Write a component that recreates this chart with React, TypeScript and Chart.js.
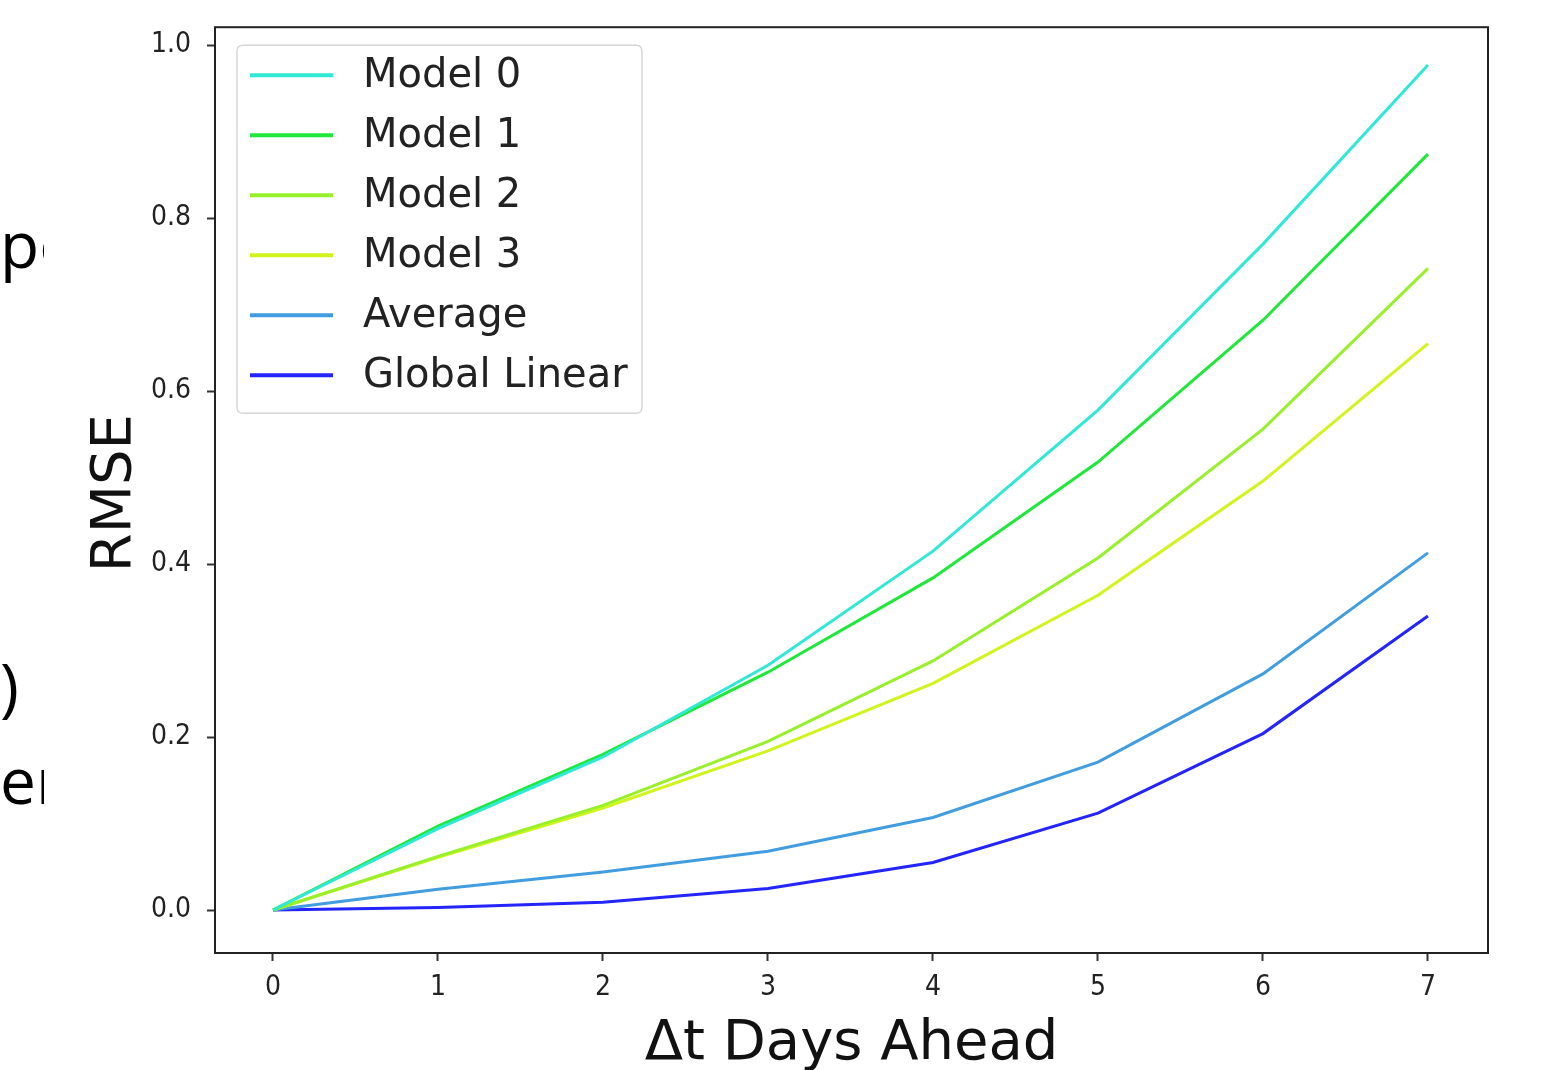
import React, { useEffect, useRef } from "react";
import { Chart, registerables } from "chart.js";

Chart.register(...registerables);

const steps = [0, 1, 2, 3, 4, 5, 6, 7];
const model0 = [0, 0.094, 0.177, 0.283, 0.415, 0.578, 0.770, 0.977];
const model1 = [0, 0.097, 0.180, 0.275, 0.384, 0.518, 0.682, 0.874];
const model2 = [0, 0.062, 0.121, 0.195, 0.288, 0.407, 0.556, 0.742];
const model3 = [0, 0.061, 0.118, 0.184, 0.262, 0.364, 0.496, 0.655];
const average = [0, 0.024, 0.044, 0.068, 0.107, 0.171, 0.273, 0.413];
const globalLinear = [0, 0.003, 0.009, 0.025, 0.055, 0.112, 0.204, 0.340];

const seriesLabels = ["Model 0", "Model 1", "Model 2", "Model 3", "Average", "Global Linear"];
const seriesColors = ["#30e8d6", "#1fe83a", "#98f02a", "#cff51c", "#429de0", "#2424ff"];
const yTicks = [0, 0.2, 0.4, 0.6, 0.8, 1.0];
const xTitle = "Δt Days Ahead";
const yTitle = "RMSE";

const framePlugin = {
  id: "frameAndLegend",
  afterDraw(chart: any) {
    const { ctx, chartArea } = chart;
    const { left, top, right, bottom } = chartArea;
    ctx.save();
    // frame
    ctx.strokeStyle = "#222";
    ctx.lineWidth = 2;
    ctx.strokeRect(left, top, right - left, bottom - top);

    // legend
    const bx = left + 22, by = top + 18, bw = 405, bh = 368;
    ctx.beginPath();
    const r = 6;
    ctx.moveTo(bx + r, by);
    ctx.lineTo(bx + bw - r, by);
    ctx.quadraticCurveTo(bx + bw, by, bx + bw, by + r);
    ctx.lineTo(bx + bw, by + bh - r);
    ctx.quadraticCurveTo(bx + bw, by + bh, bx + bw - r, by + bh);
    ctx.lineTo(bx + r, by + bh);
    ctx.quadraticCurveTo(bx, by + bh, bx, by + bh - r);
    ctx.lineTo(bx, by + r);
    ctx.quadraticCurveTo(bx, by, bx + r, by);
    ctx.closePath();
    ctx.fillStyle = "rgba(255,255,255,0.85)";
    ctx.fill();
    ctx.strokeStyle = "#d6d6d6";
    ctx.lineWidth = 1.5;
    ctx.stroke();

    chart.data.datasets.forEach((ds: any, i: number) => {
      const cy = by + 30 + i * 60;
      ctx.strokeStyle = ds.borderColor;
      ctx.lineWidth = 4;
      ctx.beginPath();
      ctx.moveTo(bx + 13, cy);
      ctx.lineTo(bx + 96, cy);
      ctx.stroke();
      ctx.fillStyle = "#222";
      ctx.font = "40px 'DejaVu Sans'";
      ctx.textAlign = "left";
      ctx.textBaseline = "middle";
      ctx.fillText(ds.label, bx + 126, cy + 1);
    });

    // axis titles
    ctx.fillStyle = "#111";
    ctx.font = "56px 'DejaVu Sans'";
    ctx.textAlign = "center";
    ctx.textBaseline = "alphabetic";
    ctx.fillText(xTitle, (left + right) / 2, 1059);
    ctx.translate(130, (top + bottom) / 2 + 3);
    ctx.rotate(-Math.PI / 2);
    ctx.fillText(yTitle, 0, 0);
    ctx.restore();
  },
};

const bgPlugin = {
  id: "bg",
  beforeDraw(chart: any) {
    const { ctx, width, height } = chart;
    ctx.save();
    ctx.fillStyle = "#fff";
    ctx.fillRect(0, 0, width, height);
    ctx.restore();
  },
};

export default function App() {
  const ref = useRef<HTMLCanvasElement>(null);
  useEffect(() => {
    if (!ref.current) return;
    const all = [model0, model1, model2, model3, average, globalLinear];
    const chart = new Chart(ref.current, {
      type: "line",
      data: {
        datasets: all.map((vals, i) => ({
          label: seriesLabels[i],
          data: steps.map((s, j) => ({ x: s, y: vals[j] })),
          borderColor: seriesColors[i],
          backgroundColor: seriesColors[i],
          borderWidth: 3,
          pointRadius: 0,
          tension: 0,
        })),
      },
      options: {
        responsive: false,
        animation: false,
        layout: { padding: { top: 27, right: 61, left: 0, bottom: 0 } },
        plugins: { legend: { display: false }, tooltip: { enabled: false } },
        scales: {
          x: {
            type: "linear",
            min: -0.3515,
            max: 7.364,
            afterBuildTicks: (s: any) => {
              s.ticks = steps.map((v) => ({ value: v }));
            },
            afterFit: (s: any) => {
              s.height = 117;
            },
            grid: { display: true, drawOnChartArea: false, drawTicks: true, tickLength: 8, tickColor: "#333", tickWidth: 2 },
            border: { display: false },
            ticks: {
              padding: 10,
              color: "#222",
              font: { family: "'DejaVu Sans Condensed', 'DejaVu Sans'", size: 28 },
              callback: (v: any) => String(v),
            },
          },
          y: {
            type: "linear",
            min: -0.0497,
            max: 1.0208,
            afterBuildTicks: (s: any) => {
              s.ticks = yTicks.map((v) => ({ value: v }));
            },
            afterFit: (s: any) => {
              s.width = 215;
            },
            grid: { display: true, drawOnChartArea: false, drawTicks: true, tickLength: 8, tickColor: "#333", tickWidth: 2 },
            border: { display: false },
            ticks: {
              padding: 16,
              color: "#222",
              font: { family: "'DejaVu Sans Condensed', 'DejaVu Sans'", size: 28, lineHeight: 0.8 },
              callback: (v: any) => Number(v).toFixed(1),
            },
          },
        },
      },
      plugins: [bgPlugin, framePlugin],
    });
    return () => chart.destroy();
  }, []);

  const frag: React.CSSProperties = {
    position: "absolute",
    left: 0,
    fontFamily: "'Open Sans', 'Noto Sans', sans-serif",
    fontSize: 64,
    color: "#000",
    whiteSpace: "nowrap",
    lineHeight: 1,
  };

  return (
    <div style={{ position: "fixed", left: 0, top: 0, width: 1549, height: 1070, background: "#fff" }}>
      <canvas ref={ref} width={1549} height={1070} style={{ position: "absolute", left: 0, top: 0 }} />
      <div style={{ position: "absolute", left: 0, top: 0, width: 44, height: 1070, overflow: "hidden" }}>
        <div style={{ ...frag, top: 212 }}>pe</div>
        <div style={{ ...frag, top: 654 }}>)</div>
        <div style={{ ...frag, top: 748 }}>er</div>
      </div>
    </div>
  );
}
